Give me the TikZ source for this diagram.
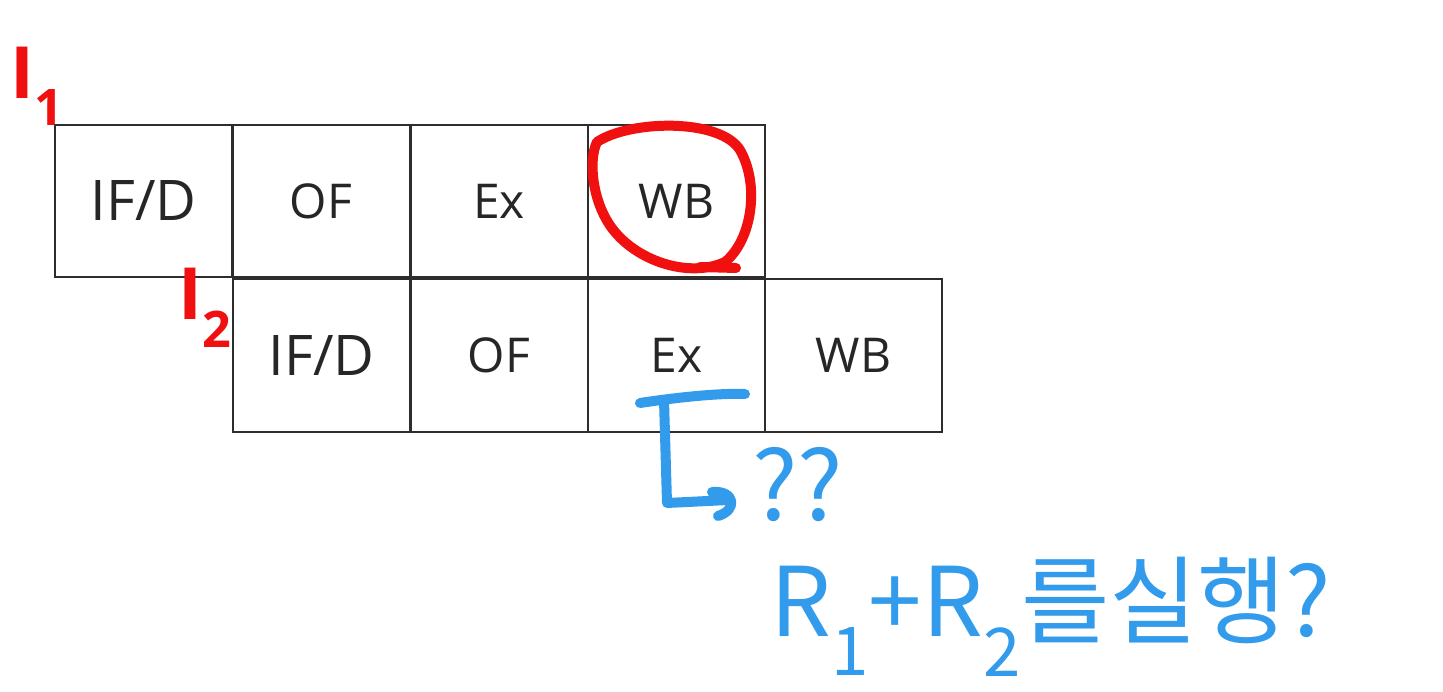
\documentclass[tikz,border=0pt]{standalone}
\usepackage{fontspec}
\setmainfont{Open Sans}
\newfontfamily\krfont{Noto Sans CJK KR}
\definecolor{inkred}{RGB}{240,16,16}
\definecolor{inkblue}{RGB}{50,155,235}
\definecolor{boxline}{RGB}{45,45,45}
\begin{document}
\begin{tikzpicture}[x=1pt,y=-1pt,
  stage/.style={draw=boxline,line width=2pt,minimum width=177pt,minimum height=152pt,inner sep=0pt,text=black!85,font=\fontsize{48}{50}\selectfont},
  bigstage/.style={stage,font=\fontsize{56}{58}\selectfont},
  redink/.style={draw=inkred,line width=10pt,line cap=round,line join=round},
  blueink/.style={draw=inkblue,line width=10pt,line cap=round,line join=round},
  redtext/.style={text=inkred,font=\fontsize{72}{74}\selectfont\bfseries,inner sep=0pt},
  bluetext/.style={text=inkblue,font=\krfont\fontsize{96}{98}\selectfont,inner sep=0pt}]
\useasboundingbox (0,0) rectangle (1443,692);
\fill[white] (0,0) rectangle (1443,692);
% row 1
\node[bigstage] (a1) at (143.5,201) {IF/D};
\node[stage] (a2) at (321,201) {OF};
\node[stage] (a3) at (499,201) {Ex};
\node[stage] (a4) at (676.5,201) {WB};
% row 2
\node[bigstage] (b1) at (321.5,355.5) {IF/D};
\node[stage] (b2) at (499,355.5) {OF};
\node[stage] (b3) at (676.5,355.5) {Ex};
\node[stage] (b4) at (853.5,355.5) {WB};
% labels
\node[redtext,anchor=south west] (i1) at (10,126) {I\textsubscript{1}};
\node[redtext,anchor=south west] (i2) at (178,348) {I\textsubscript{2}};
% red circle round WB
\draw[redink] (597,142) .. controls (630,120) and (720,118) .. (740,150)
  .. controls (760,185) and (752,240) .. (725,262)
  .. controls (690,278) and (640,262) .. (615,232)
  .. controls (592,205) and (588,160) .. (597,142);
\draw[redink] (700,267) -- (736,268);
% blue arrow
\coordinate (h1) at (640,403);
\coordinate (h2) at (745,394);
\coordinate (c1) at (664,400);
\coordinate (c2) at (667,503);
\coordinate (c3) at (728,500);
\draw[blueink] (h1) .. controls (680,397) and (720,393) .. (h2);
\draw[blueink] (c1) -- (c2) -- (c3);
\draw[blueink] (712,492) .. controls (735,490) and (738,510) .. (718,516);
\node[bluetext,anchor=south west] (qq) at (752,522) {??};
\node[bluetext,anchor=base west] (note) at (770,636) {R\textsubscript{1}+R\textsubscript{2}를실행?};
\end{tikzpicture}
\end{document}
